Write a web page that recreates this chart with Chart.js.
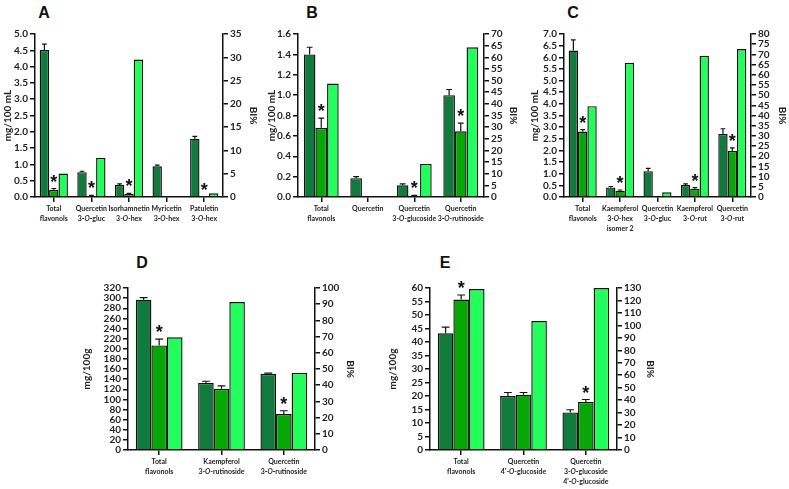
<!DOCTYPE html>
<html>
<head>
<meta charset="utf-8">
<script src="https://cdn.jsdelivr.net/npm/chart.js@4.4.0/dist/chart.umd.min.js"></script>
<style>
    body { margin: 0; background: #fff; width: 789px; height: 489px; position: relative; overflow: hidden; }
    .panel { position: absolute; }
    .tag { position: absolute; font-family: 'Liberation Sans', Arial, sans-serif; font-weight: bold; font-size: 16px; transform: translate(-50%, -50%); color: #111; }
</style>
</head>
<body>

<div class="tag" style="left:44px;top:13px">A</div>
<div class="tag" style="left:312px;top:13px">B</div>
<div class="tag" style="left:573px;top:13px">C</div>
<div class="tag" style="left:142px;top:263px">D</div>
<div class="tag" style="left:445px;top:263px">E</div>

<canvas id="chart-a" class="panel" width="262" height="240" style="left:0;top:0"></canvas>
<canvas id="chart-b" class="panel" width="258" height="240" style="left:262px;top:0"></canvas>
<canvas id="chart-c" class="panel" width="264" height="240" style="left:525px;top:0"></canvas>
<canvas id="chart-d" class="panel" width="280" height="239" style="left:78px;top:250px"></canvas>
<canvas id="chart-e" class="panel" width="274" height="239" style="left:384px;top:250px"></canvas>

<script>
// ---- data ----
// panel A
const a_labels = [['Total', 'flavonols'], ['Quercetin', '3-O-gluc'], ['Isorhamnetin', '3-O-hex'], ['Myricetin', '3-O-hex'], ['Patuletin', '3-O-hex']];
const a_dark = [4.51, 0.76, 0.37, 0.94, 1.79];
const a_dark_err = [0.18, 0.03, 0.03, 0.04, 0.07];
const a_mid = [0.22, 0.04, 0.09, null, 0.01];
const a_mid_err = [0.04, 0.01, 0.02, 0, 0];
const a_bi = [5.05, 8.4, 29.5, null, 0.8];
const a_star = [true, true, true, false, true];

// panel B
const b_labels = [['Total', 'flavonols'], ['Quercetin'], ['Quercetin', '3-O-glucoside'], ['Quercetin', '3-O-rutinoside']];
const b_dark = [1.40, 0.185, 0.115, 1.00];
const b_dark_err = [0.07, 0.015, 0.013, 0.055];
const b_mid = [0.68, null, 0.013, 0.645];
const b_mid_err = [0.095, 0, 0.003, 0.08];
const b_bi = [48.7, null, 14.2, 64.3];
const b_star = [true, false, true, true];

// panel C
const c_labels = [['Total', 'flavonols'], ['Kaempferol', '3-O-hex', 'isomer 2'], ['Quercetin', '3-O-gluc'], ['Kaempferol', '3-O-rut'], ['Quercetin', '3-O-rut']];
const c_dark = [6.29, 0.41, 1.11, 0.51, 2.71];
const c_dark_err = [0.46, 0.04, 0.12, 0.05, 0.22];
const c_mid = [2.81, 0.27, 0.03, 0.35, 1.98];
const c_mid_err = [0.08, 0.03, 0, 0.05, 0.13];
const c_bi = [44.6, 65.9, 2.3, 69.3, 72.6];
const c_star = [true, true, false, true, true];

// panel D
const d_labels = [['Total', 'flavonols'], ['Kaempferol', '3-O-rutinoside'], ['Quercetin', '3-O-rutinoside']];
const d_dark = [297, 132.5, 150.4];
const d_dark_err = [4, 3.3, 1.3];
const d_mid = [206.5, 121, 71];
const d_mid_err = [12.5, 5.5, 6.5];
const d_bi = [69.6, 91.3, 47.6];
const d_star = [true, false, true];

// panel E
const e_labels = [['Total', 'flavonols'], ['Quercetin', "4'-O-glucoside"], ['Quercetin', '3-O-glucoside', "4'-O-glucoside"]];
const e_dark = [43.2, 20.0, 13.9];
const e_dark_err = [2.3, 1.3, 1.0];
const e_mid = [55.7, 20.5, 17.8];
const e_mid_err = [1.7, 0.8, 0.9];
const e_bi = [129.2, 103.5, 130];
const e_star = [true, false, true];

// ---- drawing ----
const dark_color = '#117a3d';
const mid_color = '#06a806';
const bright_color = '#22ff5c';
const font_family = 'Lato, "Liberation Sans", sans-serif';
const tick_font = { family: font_family, size: 10, weight: 'bold' };
const title_font = { family: font_family, size: 10, weight: 'bold' };

// error bars, asterisks and category labels (with italic O)
const extras_plugin = (dark_err, mid_err, stars) => ({
    id: 'extras',
    afterDatasetsDraw(chart) {
        const ctx = chart.ctx;
        const y = chart.scales.y;
        const errs = [dark_err, mid_err];
        ctx.save();
        ctx.strokeStyle = '#111';
        ctx.lineWidth = 1.2;
        [0, 1].forEach(di => {
            const meta = chart.getDatasetMeta(di);
            const vals = chart.data.datasets[di].data;
            meta.data.forEach((bar, j) => {
                if (vals[j] == null || !errs[di][j]) return;
                const top = y.getPixelForValue(vals[j]);
                const et = y.getPixelForValue(vals[j] + errs[di][j]);
                const hw = bar.width * 0.25;
                ctx.beginPath();
                ctx.moveTo(bar.x, top);
                ctx.lineTo(bar.x, et);
                ctx.moveTo(bar.x - hw, et);
                ctx.lineTo(bar.x + hw, et);
                ctx.stroke();
            });
        });
        const meta = chart.getDatasetMeta(1);
        const vals = chart.data.datasets[1].data;
        ctx.fillStyle = '#111';
        ctx.font = 'bold 18px "Liberation Sans", Arial, sans-serif';
        ctx.textAlign = 'center';
        ctx.textBaseline = 'alphabetic';
        meta.data.forEach((bar, j) => {
            if (!stars[j]) return;
            const v = (vals[j] || 0) + (mid_err[j] || 0);
            ctx.fillText('*', bar.x, y.getPixelForValue(v) - 1);
        });

        // category labels
        const x = chart.scales.x;
        const size = 7;
        const line_h = 10;
        ctx.fillStyle = '#222';
        ctx.textAlign = 'left';
        ctx.textBaseline = 'top';
        chart.data.labels.forEach((lines, i) => {
            const cx = x.getPixelForTick(i);
            lines.forEach((line, k) => {
                const parts = line.split(/(?<=-)(O)(?=-)/);
                const fonts = parts.map((p, n) => (n % 2 ? 'italic ' : '') + `bold ${size}px ${font_family}`);
                let w = 0;
                parts.forEach((p, n) => { ctx.font = fonts[n]; w += ctx.measureText(p).width; });
                let px = cx - w / 2;
                const py = x.top + 8 + k * line_h;
                parts.forEach((p, n) => {
                    ctx.font = fonts[n];
                    ctx.fillText(p, px, py);
                    px += ctx.measureText(p).width;
                });
            });
        });
        ctx.restore();
    }
});

const init_panel = (id, box, labels, dark, dark_err, mid, mid_err, bi, stars, left_axis, right_axis) => {
    const canvas = document.getElementById(id);
    new Chart(canvas, {
        type: 'bar',
        data: {
            labels: labels,
            datasets: [
                { data: dark, backgroundColor: dark_color, borderColor: '#111', borderWidth: 1.4, yAxisID: 'y' },
                { data: mid, backgroundColor: mid_color, borderColor: '#111', borderWidth: 1.4, yAxisID: 'y' },
                { data: bi, backgroundColor: bright_color, borderColor: '#111', borderWidth: 1.4, yAxisID: 'y1' }
            ]
        },
        options: {
            responsive: false,
            animation: false,
            layout: { padding: { top: box.top, left: 0, right: 0, bottom: 0 } },
            datasets: { bar: { categoryPercentage: 0.75, barPercentage: 1.0 } },
            plugins: { legend: { display: false }, tooltip: { enabled: false } },
            scales: {
                x: {
                    grid: { offset: false, drawOnChartArea: false, color: '#111', lineWidth: 1.5, tickLength: 5 },
                    border: { display: true, color: '#111', width: 1.5 },
                    ticks: { display: false },
                    afterFit: (s) => { s.height = box.xh; }
                },
                y: {
                    position: 'left',
                    min: 0, max: left_axis.max,
                    grid: { drawOnChartArea: false, color: '#111', lineWidth: 1.5, tickLength: 5 },
                    border: { display: true, color: '#111', width: 1.5 },
                    ticks: {
                        stepSize: left_axis.step, autoSkip: false, color: '#222', font: tick_font, padding: 2,
                        callback: (v) => v.toFixed(left_axis.digits)
                    },
                    title: { display: true, text: left_axis.title, font: title_font, color: '#222', padding: { top: left_axis.pad, bottom: 0 } },
                    afterFit: (s) => { s.width = box.lw; }
                },
                y1: {
                    position: 'right',
                    min: 0, max: right_axis.max,
                    grid: { drawOnChartArea: false, color: '#111', lineWidth: 1.5, tickLength: 5 },
                    border: { display: true, color: '#111', width: 1.5 },
                    ticks: { stepSize: right_axis.step, autoSkip: false, color: '#222', font: tick_font, padding: 2 },
                    title: { display: true, text: 'BI%', font: title_font, color: '#222', padding: { top: right_axis.pad, bottom: 0 } },
                    afterFit: (s) => { s.width = box.rw; }
                }
            }
        },
        plugins: [extras_plugin(dark_err, mid_err, stars)]
    });
};

init_panel('chart-a', { top: 34, xh: 43, lw: 35, rw: 39 }, a_labels, a_dark, a_dark_err, a_mid, a_mid_err, a_bi, a_star,
    { max: 5, step: 0.5, digits: 1, title: 'mg/100 mL', pad: 2 }, { max: 35, step: 5, pad: 3 });
init_panel('chart-b', { top: 34, xh: 43, lw: 36, rw: 36 }, b_labels, b_dark, b_dark_err, b_mid, b_mid_err, b_bi, b_star,
    { max: 1.6, step: 0.2, digits: 1, title: 'mg/100 mL', pad: 4 }, { max: 70, step: 5, pad: 1 });
init_panel('chart-c', { top: 34, xh: 43, lw: 39, rw: 38 }, c_labels, c_dark, c_dark_err, c_mid, c_mid_err, c_bi, c_star,
    { max: 7, step: 0.5, digits: 1, title: 'mg/100 mL', pad: 4 }, { max: 80, step: 5, pad: 1 });
init_panel('chart-d', { top: 38, xh: 39, lw: 50, rw: 43 }, d_labels, d_dark, d_dark_err, d_mid, d_mid_err, d_bi, d_star,
    { max: 320, step: 20, digits: 0, title: 'mg/100g', pad: 3 }, { max: 100, step: 10, pad: 2 });
init_panel('chart-e', { top: 38, xh: 39, lw: 46, rw: 41 }, e_labels, e_dark, e_dark_err, e_mid, e_mid_err, e_bi, e_star,
    { max: 60, step: 5, digits: 0, title: 'mg/100g', pad: 3 }, { max: 130, step: 10, pad: 2 });
</script>
</body>
</html>
